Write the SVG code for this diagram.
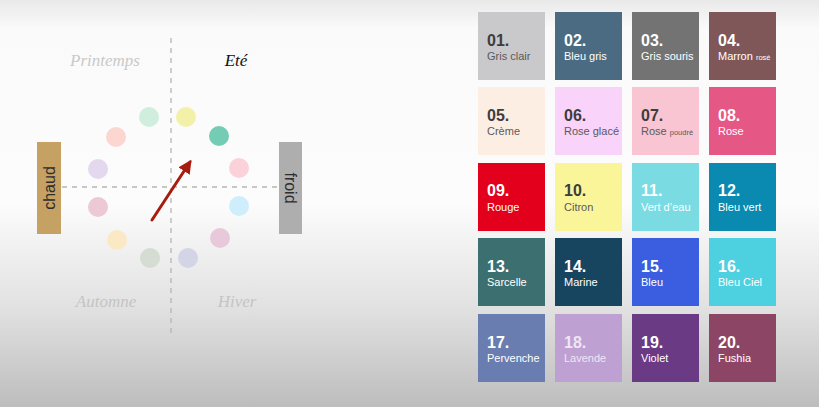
<svg xmlns="http://www.w3.org/2000/svg" width="819" height="407" viewBox="0 0 819 407">
<defs>
<linearGradient id="bg" x1="0" y1="0" x2="0" y2="1">
<stop offset="0" stop-color="#e9e9e9"/>
<stop offset="0.07" stop-color="#fafafa"/>
<stop offset="0.5" stop-color="#fcfcfc"/>
<stop offset="0.75" stop-color="#e2e2e2"/>
<stop offset="1" stop-color="#bdbdbd"/>
</linearGradient>
<marker id="ah" viewBox="0 0 10 10" refX="8" refY="5" markerWidth="4.5" markerHeight="4.5" orient="auto" markerUnits="strokeWidth">
<path d="M0,0 L10,5 L0,10 Z" fill="#a81c10"/>
</marker>
<style>
.season{font-family:"Liberation Serif","DejaVu Serif",serif;font-style:italic;font-size:17px;text-anchor:middle}
.side{font-family:"Liberation Sans",Arial,sans-serif;font-size:16px;fill:#2d2d2d;text-anchor:middle;dominant-baseline:central}
.num{font-family:"Liberation Sans",Arial,sans-serif;font-weight:bold;font-size:16px}
.nm{font-family:"Liberation Sans",Arial,sans-serif;font-size:11px}
.sm{font-size:7.5px}
.lt .num,.lt .nm{fill:#ffffff}
.dk .num{fill:#3d3d3d}
.dk .nm{fill:#5a5a5a}
.axis{stroke:#b5b5b5;stroke-width:1.3;stroke-dasharray:5 5;fill:none}
</style>
</defs>
<rect x="0" y="0" width="819" height="407" fill="url(#bg)"/>

<g id="connectors">
<line class="axis" x1="171" y1="38" x2="171" y2="337"/>
<line class="axis" x1="62" y1="187" x2="278" y2="187" stroke="#c8c8c8"/>
<line x1="152" y1="220" x2="190" y2="162" stroke="#a81c10" stroke-width="3" stroke-linecap="round" marker-end="url(#ah)"/>
</g>

<g id="labels">
<text class="season" x="105" y="66" fill="#c9c9c9">Printemps</text>
<text class="season" x="236" y="66" fill="#111111">Eté</text>
<text class="season" x="106" y="307" fill="#c4c4c4">Automne</text>
<text class="season" x="237" y="307" fill="#c4c4c4">Hiver</text>
</g>

<g id="chaud">
<rect x="37" y="142" width="24" height="92" fill="#c5a263"/>
<text class="side" transform="translate(49,188) rotate(-90)">chaud</text>
</g>
<g id="froid">
<rect x="279" y="142" width="23" height="92" fill="#aeaeae"/>
<text class="side" transform="translate(290.5,188) rotate(90)">froid</text>
</g>

<g id="circles">
<circle id="c1" cx="149" cy="117" r="10" fill="#cfeedd"/>
<circle id="c2" cx="116" cy="137" r="10" fill="#fcd7d2"/>
<circle id="c3" cx="98" cy="169" r="10" fill="#e4d8ef"/>
<circle id="c4" cx="186" cy="117" r="10" fill="#f3f0a8"/>
<circle id="c5" cx="219" cy="136" r="10" fill="#74ccb4"/>
<circle id="c6" cx="239" cy="168" r="10" fill="#fbd1da"/>
<circle id="c7" cx="98" cy="207" r="10" fill="#ecc9d5"/>
<circle id="c8" cx="239" cy="206" r="10" fill="#cdeefa"/>
<circle id="c9" cx="117" cy="240" r="10" fill="#fbe9c6"/>
<circle id="c10" cx="150" cy="258" r="10" fill="#d5dcd2"/>
<circle id="c11" cx="188" cy="258" r="10" fill="#d4d4e7"/>
<circle id="c12" cx="220" cy="238" r="10" fill="#e8c9dc"/>
</g>

<g id="s01" class="dk"><rect x="478" y="12" width="67" height="68" fill="#c9c8cb"/><text class="num" x="487" y="46">01.</text><text class="nm" x="487" y="60">Gris clair</text></g>
<g id="s02" class="lt"><rect x="555" y="12" width="67" height="68" fill="#4a6b82"/><text class="num" x="564" y="46">02.</text><text class="nm" x="564" y="60">Bleu gris</text></g>
<g id="s03" class="lt"><rect x="632" y="12" width="67" height="68" fill="#737373"/><text class="num" x="641" y="46">03.</text><text class="nm" x="641" y="60">Gris souris</text></g>
<g id="s04" class="lt"><rect x="709" y="12" width="67" height="68" fill="#7f5759"/><text class="num" x="718" y="46">04.</text><text class="nm" x="718" y="60">Marron <tspan class="sm">rosé</tspan></text></g>

<g id="s05" class="dk"><rect x="478" y="87" width="67" height="68" fill="#fdeee4"/><text class="num" x="487" y="121">05.</text><text class="nm" x="487" y="135">Crème</text></g>
<g id="s06" class="dk"><rect x="555" y="87" width="67" height="68" fill="#f9d3f9"/><text class="num" x="564" y="121">06.</text><text class="nm" x="564" y="135">Rose glacé</text></g>
<g id="s07" class="dk"><rect x="632" y="87" width="67" height="68" fill="#f9c5d2"/><text class="num" x="641" y="121">07.</text><text class="nm" x="641" y="135">Rose <tspan class="sm">poudré</tspan></text></g>
<g id="s08" class="lt"><rect x="709" y="87" width="67" height="68" fill="#e55785"/><text class="num" x="718" y="121">08.</text><text class="nm" x="718" y="135">Rose</text></g>

<g id="s09" class="lt"><rect x="478" y="163" width="67" height="68" fill="#e2001c"/><text class="num" x="487" y="196">09.</text><text class="nm" x="487" y="211">Rouge</text></g>
<g id="s10" class="dk"><rect x="555" y="163" width="67" height="68" fill="#fbf59a"/><text class="num" x="564" y="196">10.</text><text class="nm" x="564" y="211">Citron</text></g>
<g id="s11" class="lt"><rect x="632" y="163" width="67" height="68" fill="#7adbe3"/><text class="num" x="641" y="196">11.</text><text class="nm" x="641" y="211">Vert d’eau</text></g>
<g id="s12" class="lt"><rect x="709" y="163" width="67" height="68" fill="#0a8ab0"/><text class="num" x="718" y="196">12.</text><text class="nm" x="718" y="211">Bleu vert</text></g>

<g id="s13" class="lt"><rect x="478" y="238" width="67" height="68" fill="#3c7070"/><text class="num" x="487" y="272">13.</text><text class="nm" x="487" y="286">Sarcelle</text></g>
<g id="s14" class="lt"><rect x="555" y="238" width="67" height="68" fill="#17445e"/><text class="num" x="564" y="272">14.</text><text class="nm" x="564" y="286">Marine</text></g>
<g id="s15" class="lt"><rect x="632" y="238" width="67" height="68" fill="#3b5ee0"/><text class="num" x="641" y="272">15.</text><text class="nm" x="641" y="286">Bleu</text></g>
<g id="s16" class="lt"><rect x="709" y="238" width="67" height="68" fill="#4dd0e0"/><text class="num" x="718" y="272">16.</text><text class="nm" x="718" y="286">Bleu Ciel</text></g>

<g id="s17" class="lt"><rect x="478" y="314" width="67" height="68" fill="#6a7db0"/><text class="num" x="487" y="348">17.</text><text class="nm" x="487" y="362">Pervenche</text></g>
<g id="s18" class="lt"><rect x="555" y="314" width="67" height="68" fill="#bfa0d3"/><text class="num" x="564" y="348" fill-opacity="0.75">18.</text><text class="nm" x="564" y="362" fill-opacity="0.75">Lavende</text></g>
<g id="s19" class="lt"><rect x="632" y="314" width="67" height="68" fill="#6a3a84"/><text class="num" x="641" y="348">19.</text><text class="nm" x="641" y="362">Violet</text></g>
<g id="s20" class="lt"><rect x="709" y="314" width="67" height="68" fill="#8d4565"/><text class="num" x="718" y="348">20.</text><text class="nm" x="718" y="362">Fushia</text></g>
</svg>
